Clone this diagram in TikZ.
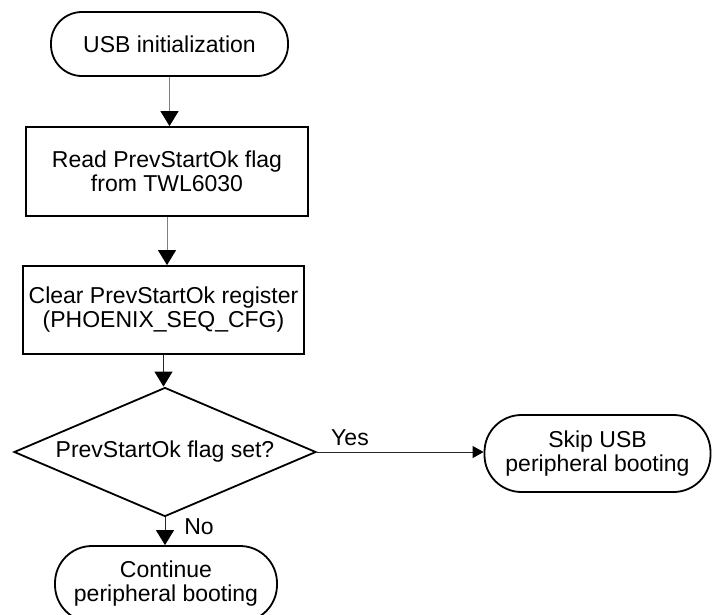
\documentclass[tikz,border=0pt]{standalone}
\usepackage{fontspec}
\setmainfont{Liberation Sans}
\usetikzlibrary{shapes.geometric,arrows.meta}
\begin{document}
\begin{tikzpicture}[x=1pt,y=-1pt,
 every node/.style={font=\fontsize{23}{24}\selectfont, align=center, inner sep=0pt},
 term/.style={draw, fill=white, line width=1.8pt},
 proc/.style={draw, fill=white, line width=1.8pt},
 dec/.style={draw, fill=white, diamond, line width=1.8pt, shape aspect=2.34},
 flow/.style={line width=0.9pt, -{Triangle[length=15pt,width=18pt,color=black]}},
 flowsmall/.style={line width=0.9pt, -{Triangle[length=11pt,width=12pt,color=black]}}
]
\useasboundingbox (0,0) rectangle (713,614);
\clip (0,0) rectangle (713,614);
\fill[white] (0,0) rectangle (713,614);
\node[term, rounded corners=31pt, minimum width=237pt, minimum height=64pt] (start) at (169.5,44) {USB initialization};
\node[proc, minimum width=282pt, minimum height=89pt] (read) at (167,171.5) {Read PrevStartOk flag\\from TWL6030};
\node[proc, minimum width=281pt, minimum height=88pt] (clear) at (163.5,310) {Clear PrevStartOk register\\(PHOENIX\_SEQ\_CFG)};
\node[dec, minimum width=302pt, minimum height=129pt] (dec) at (165,452) {PrevStartOk flag set?};
\node[term, rounded corners=37pt, minimum width=226pt, minimum height=77pt] (skip) at (597.5,453.5) {Skip USB\\peripheral booting};
\node[term, rounded corners=37pt, minimum width=222pt, minimum height=76pt] (cont) at (166,584) {Continue\\peripheral booting};
\draw[flow, black!50] (start.south) -- (start.south |- read.north);
\draw[flow, black!50] (read.south) -- (read.south |- clear.north);
\draw[flow, black!85] (clear.south) -- (clear.south |- dec.north);
\draw[flow, black!85] (dec.south) -- (dec.south |- cont.north);
\draw[flowsmall, black!85] (dec.east) -- (dec.east -| skip.west);
\node (yes) at (350,438) {Yes};
\node (no) at (199,527) {No};
\end{tikzpicture}
\end{document}
